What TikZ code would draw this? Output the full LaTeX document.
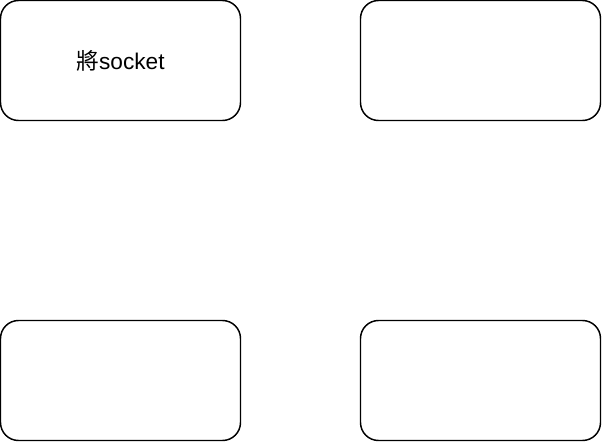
\documentclass[tikz,border=0pt]{standalone}
\usepackage{fontspec}
\setmainfont{Liberation Sans}
\newfontfamily\cjk{Noto Sans CJK TC}
\usetikzlibrary{positioning}

\begin{document}
\begin{tikzpicture}[x=0.75pt,y=-0.75pt,
	every node/.style={draw, rectangle, rounded corners=13.5pt, line width=1.1pt,
		minimum width=180pt, minimum height=90pt, inner sep=0pt, outer sep=0pt,
		font=\fontsize{17}{20}\selectfont}]
	\useasboundingbox (0,0) rectangle (602,442);
	\begin{scope}[node distance=90pt and 150pt]
	\node (sock) at (120.5,60.5) {{\cjk 將}socket};
	\node (tr) [right=90pt of sock] {};
	\node (bl) [below=150pt of sock] {};
	\node (br) [below=150pt of tr] {};
	\end{scope}
	\end{tikzpicture}
\end{document}
